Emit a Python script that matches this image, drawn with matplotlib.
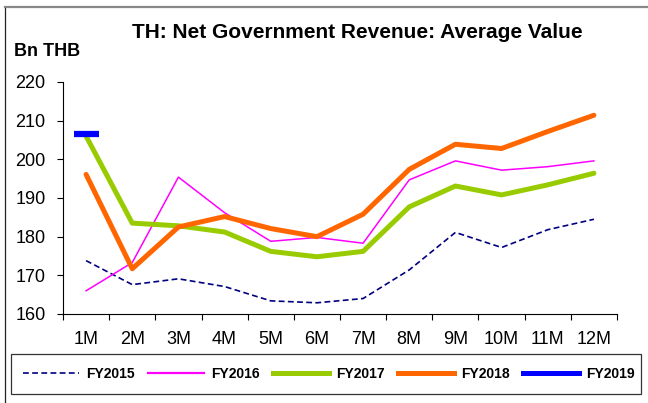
import matplotlib
matplotlib.use("Agg")
import matplotlib.pyplot as plt
from matplotlib.lines import Line2D
from matplotlib.patches import Rectangle
import numpy as np

plt.rcParams['font.family'] = ['Liberation Sans', 'DejaVu Sans']

months = ["1M", "2M", "3M", "4M", "5M", "6M", "7M", "8M", "9M", "10M", "11M", "12M"]

fy2015 = [173.8, 167.6, 169.1, 167.1, 163.4, 162.9, 164.0, 171.4, 181.1, 177.2, 181.8, 184.5]
fy2016 = [166.0, 173.3, 195.4, 186.2, 178.8, 179.8, 178.3, 194.7, 199.6, 197.2, 198.1, 199.6]
fy2017 = [206.0, 183.5, 182.8, 181.2, 176.2, 174.8, 176.2, 187.7, 193.1, 190.8, 193.4, 196.4]
fy2018 = [196.1, 171.7, 182.5, 185.2, 182.1, 180.0, 185.8, 197.4, 203.9, 202.8, 207.2, 211.4]
fy2019 = [206.5]

yticks = [160, 170, 180, 190, 200, 210, 220]

fig = plt.figure(figsize=(6.48, 4.03), dpi=100)
ax = fig.add_axes([63 / 648, 1 - 314 / 403, 554 / 648, 232 / 403])

x = np.arange(len(months))
ax.plot(x, fy2015, color="#000080", lw=1.2, dashes=(3.5, 2))
ax.plot(x, fy2016, color="#ff00ff", lw=1.1)
ax.plot(x, fy2017, color="#99cc00", lw=3.6, solid_capstyle="round")
ax.plot(x, fy2018, color="#ff6600", lw=3.6, solid_capstyle="round")
# only one month so far, drawn as a short flat bar
ax.plot(x[:len(fy2019)], fy2019, color="#0000ff", ls="none", marker="_",
        markersize=18, markeredgewidth=4.5)

ax.set_xlim(-0.5, len(months) - 0.5)
ax.set_ylim(160, 220)
ax.set_yticks(yticks)
ax.set_yticklabels([str(v) for v in yticks], fontsize=13)
ax.set_xticks(x)
ax.set_xticklabels(months, fontsize=13)
ax.set_xticks(np.arange(-0.5, len(months)), minor=True)
ax.tick_params(axis="x", which="major", length=0, pad=12)
ax.tick_params(axis="x", which="minor", length=4.5, width=0.8, direction="out")
ax.tick_params(axis="y", length=4.5, width=0.8, direction="out", pad=8)

for side in ["top", "right"]:
    ax.spines[side].set_visible(False)
for side in ["left", "bottom"]:
    ax.spines[side].set_linewidth(0.8)
ax.patch.set_alpha(0)

fig.text(357 / 648, 1 - 33 / 403, "TH: Net Government Revenue: Average Value",
         ha="center", va="center", fontsize=15, fontweight="bold")
fig.text(14 / 648, 1 - 52 / 403, "Bn THB", ha="left", va="center",
         fontsize=13, fontweight="bold")

handles = [
    Line2D([], [], color="#000080", lw=1.2, dashes=(3.5, 2)),
    Line2D([], [], color="#ff00ff", lw=1.6),
    Line2D([], [], color="#99cc00", lw=3.6),
    Line2D([], [], color="#ff6600", lw=3.6),
    Line2D([], [], color="#0000ff", lw=3.6),
]
labels = ["FY2015", "FY2016", "FY2017", "FY2018", "FY2019"]
fig.legend(handles, labels, loc="center", ncol=5,
           bbox_to_anchor=(329 / 648, 1 - 374 / 403),
           frameon=False, handlelength=4.0, handletextpad=0.5,
           columnspacing=1.0, borderaxespad=0, borderpad=0.2,
           prop={"size": 10, "weight": "bold"})

# legend box and outer frame lines
fig.add_artist(Rectangle((11 / 648, 1 - 394 / 403), 630 / 648, 40 / 403,
                         transform=fig.transFigure, fill=False,
                         edgecolor="#333333", lw=0.9))
fig.add_artist(Line2D([4.5 / 648, 4.5 / 648], [0, 1 - 7 / 403], color="#222222", lw=0.9))
fig.add_artist(Line2D([4.5 / 648, 1], [1 - 7 / 403, 1 - 7 / 403], color="#888888", lw=1.6))

fig.savefig("out.png", dpi=100)
